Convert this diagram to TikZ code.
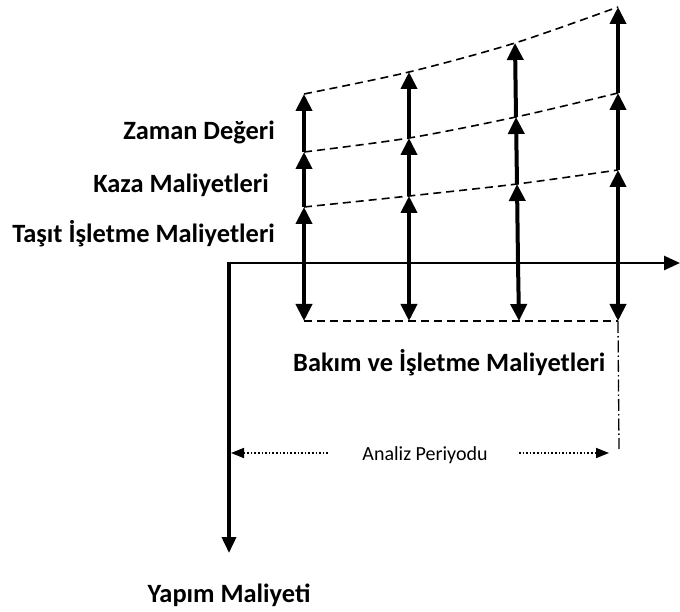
\documentclass[tikz,border=0pt]{standalone}
\usepackage{fontspec}
\setmainfont{Carlito}
\usetikzlibrary{arrows.meta}
\begin{document}
\begin{tikzpicture}[x=1pt,y=-1pt,
  axis/.style={line width=2.6pt},
  costarrow/.style={line width=4pt,-{Triangle[length=17pt,width=16pt]}},
  level/.style={line width=1.6pt,dash pattern=on 8pt off 5pt},
  period/.style={line width=1.6pt,dash pattern=on 1.6pt off 2pt,-{Triangle[length=13pt,width=10pt]}},
  lbl/.style={font=\fontsize{26.4}{30}\selectfont\bfseries,inner sep=0pt}]
\useasboundingbox (0,0) rectangle (680,612);

% origin of the time axis and the cost axis
\coordinate (o) at (229,263);
\coordinate (xend) at (680,263);
\coordinate (yend) at (229,553);

% column points: b = bottom, a = on the axis, 1..3 = cost levels
\coordinate (c1b) at (304,321); \coordinate (c1a) at (304,263);
\coordinate (c11) at (304,207); \coordinate (c12) at (304,152); \coordinate (c13) at (304,94);
\coordinate (c2b) at (409,321); \coordinate (c2a) at (409,263);
\coordinate (c21) at (409,196); \coordinate (c22) at (409,138); \coordinate (c23) at (409,72);
\coordinate (c3b) at (519,321); \coordinate (c3a) at (518,263);
\coordinate (c31) at (517,184); \coordinate (c32) at (516,117); \coordinate (c33) at (515,43);
\coordinate (c4b) at (618,321); \coordinate (c4a) at (618,263);
\coordinate (c41) at (618,170); \coordinate (c42) at (618,93); \coordinate (c43) at (618,7);

% axes
\draw[axis,-{Triangle[length=16pt,width=14pt]}] (o) -- (xend);
\draw[line width=3.6pt,-{Triangle[length=16pt,width=14pt]}] ([yshift=1.3pt]o) -- (yend);

% dashed level curves
\draw[level] plot[smooth] coordinates {(c11) (c21) (c31) (c41)};
\draw[level] plot[smooth] coordinates {(c12) (c22) (c32) (c42)};
\draw[level] plot[smooth] coordinates {(c13) (c23) (c33) (c43)};
\draw[level] (c1b) -- (c4b);

% cost arrows in each column
\foreach \c in {1,2,3,4}{
  \draw[costarrow] (c\c a) -- (c\c b);
  \draw[costarrow] (c\c a) -- (c\c1);
  \draw[costarrow] (c\c1) -- (c\c2);
  \draw[costarrow] (c\c2) -- (c\c3);
}

% end of the analysis period
\coordinate (pend) at (619,449);
\draw[line width=1.3pt,dash pattern=on 12pt off 3pt on 1.5pt off 3pt] (c4b) -- (pend);

% analysis period
\node[font=\fontsize{20}{22}\selectfont,inner sep=0pt] (per) at (425,455) {Analiz Periyodu};
\coordinate (pl) at (231,453);
\coordinate (pls) at (328,453);
\coordinate (pr) at (609,453);
\coordinate (prs) at (519,453);
\draw[period] (pls) -- (pl);
\draw[period] (prs) -- (pr);

% labels
\node[lbl,anchor=east] (zaman) at (275,132) {Zaman Değeri};
\node[lbl,anchor=east] (kaza) at (269,185) {Kaza Maliyetleri};
\node[lbl,anchor=east] (tasit) at (275,234) {Taşıt İşletme Maliyetleri};
\node[lbl,anchor=west] (bakim) at (293,363) {Bakım ve İşletme Maliyetleri};
\node[lbl] (yapim) at (229,595) {Yapım Maliyeti};
\end{tikzpicture}
\end{document}
